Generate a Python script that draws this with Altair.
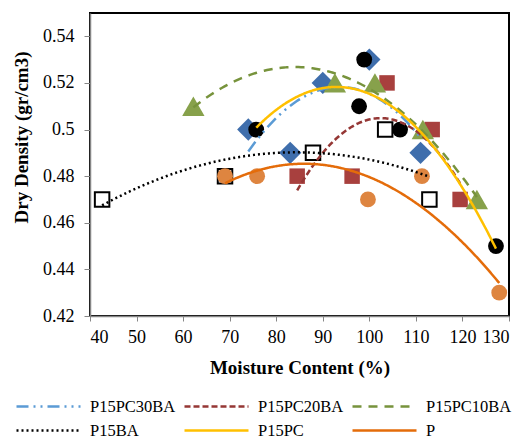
import altair as alt
import pandas as pd

# ---- data ----
series_order = ["P15PC30BA", "P15PC20BA", "P15PC10BA", "P15BA", "P15PC", "P"]

p30_x = [74, 83, 90, 100, 111]
p30_y = [0.50, 0.49, 0.52, 0.53, 0.49]

p20_x = [84.5, 96.3, 103.8, 113.5, 119.5]
p20_y = [0.48, 0.48, 0.52, 0.50, 0.47]

p10_x = [62.2, 92.6, 101.2, 111.5, 123.1]
p10_y = [0.51, 0.52, 0.52, 0.50, 0.47]

pba_x = [42.6, 69.0, 87.9, 103.4, 112.9]
pba_y = [0.47, 0.48, 0.49, 0.50, 0.47]

ppc_x = [75.7, 97.8, 98.9, 106.6, 127.2]
ppc_y = [0.50, 0.51, 0.53, 0.50, 0.45]

p_x = [69.0, 75.9, 99.7, 111.3, 127.9]
p_y = [0.48, 0.48, 0.47, 0.48, 0.43]

x_ticks = [40, 50, 60, 70, 80, 90, 100, 110, 120, 130]
y_ticks = [0.42, 0.44, 0.46, 0.48, 0.50, 0.52, 0.54]

line_colors = ["#5B9BD5", "#953735", "#77933C", "#000000", "#FFC000", "#E46C0A"]
line_dashes = [[12, 5, 2, 5, 2, 5], [6, 3], [9, 7], [2, 3], [1, 0], [1, 0]]

rows = []
for name, xs, ys in [
    ("P15PC30BA", p30_x, p30_y),
    ("P15PC20BA", p20_x, p20_y),
    ("P15PC10BA", p10_x, p10_y),
    ("P15BA", pba_x, pba_y),
    ("P15PC", ppc_x, ppc_y),
    ("P", p_x, p_y),
]:
    for a, b in zip(xs, ys):
        rows.append({"series": name, "x": a, "y": b})
df = pd.DataFrame(rows)

FONT = "Times New Roman, Liberation Serif, serif"

xscale = alt.Scale(domain=[40, 130], nice=False, zero=False)
yscale = alt.Scale(domain=[0.42, 0.55], nice=False, zero=False)

xaxis = alt.Axis(values=x_ticks, title="Moisture Content (%)", grid=False,
                 domainColor="#868686", domainWidth=1.5, tickColor="#868686",
                 tickSize=5, labelFontSize=18, labelFont=FONT, labelColor="#000",
                 labelPadding=7, titleFont=FONT, titleFontSize=19,
                 titleFontWeight="bold", titleColor="#000", titlePadding=12)
yaxis = alt.Axis(values=y_ticks, format=".2~f", title="Dry Density (gr/cm3)",
                 grid=False, domainColor="#868686", domainWidth=1.5,
                 tickColor="#868686", tickSize=6, labelFontSize=18,
                 labelFont=FONT, labelColor="#000", labelPadding=10,
                 titleFont=FONT, titleFontSize=19, titleFontWeight="bold",
                 titleColor="#000", titleX=-59, titleY=124)

base = alt.Chart(df)

def pts(name, shape, size, fill, stroke=None, sw=0):
    kw = dict(shape=shape, size=size, filled=True, fill=fill, opacity=1)
    if stroke:
        kw.update(stroke=stroke, strokeWidth=sw)
    return base.transform_filter(alt.datum.series == name).mark_point(**kw).encode(
        x=alt.X("x:Q", scale=xscale, axis=xaxis),
        y=alt.Y("y:Q", scale=yscale, axis=yaxis),
    )

points = [
    pts("P15PC30BA", "diamond", 500, "#3F6EAC"),
    pts("P15PC20BA", "square", 240, "#A8403E"),
    pts("P15PC10BA", "triangle-up", 500, "#87A14B"),
    pts("P15BA", "square", 210, "#FFFFFF", "#000000", 2),
    pts("P15PC", "circle", 250, "#000000"),
    pts("P", "circle", 250, "#DE8540"),
]

lines = base.transform_regression(
    "x", "y", groupby=["series"], method="poly", order=2
).mark_line(strokeWidth=2.5).encode(
    x=alt.X("x:Q", scale=xscale, axis=xaxis),
    y=alt.Y("y:Q", scale=yscale, axis=yaxis),
    color=alt.Color("series:N", scale=alt.Scale(domain=series_order, range=line_colors),
                    sort=series_order, title=None),
    strokeDash=alt.StrokeDash("series:N", scale=alt.Scale(domain=series_order, range=line_dashes),
                              sort=series_order, title=None),
)

chart = alt.layer(*points, lines).properties(
    width=419, height=303,
    padding={"left": 90, "top": 13, "right": 19, "bottom": 123},
    autosize=alt.AutoSizeParams(type="none"),
).configure_view(
    stroke="#000000", strokeWidth=2
).configure_legend(
    orient="none", legendX=-51, legendY=384, columns=3, direction="horizontal",
    symbolType="M-4,0H4", symbolSize=256, symbolStrokeWidth=2.5,
    labelFont=FONT, labelFontSize=16.5, labelColor="#000", labelOffset=32,
    columnPadding=3, rowPadding=6, labelLimit=200, padding=0,
)

chart.save("out.html", embed_options={"renderer": "svg", "actions": False})
